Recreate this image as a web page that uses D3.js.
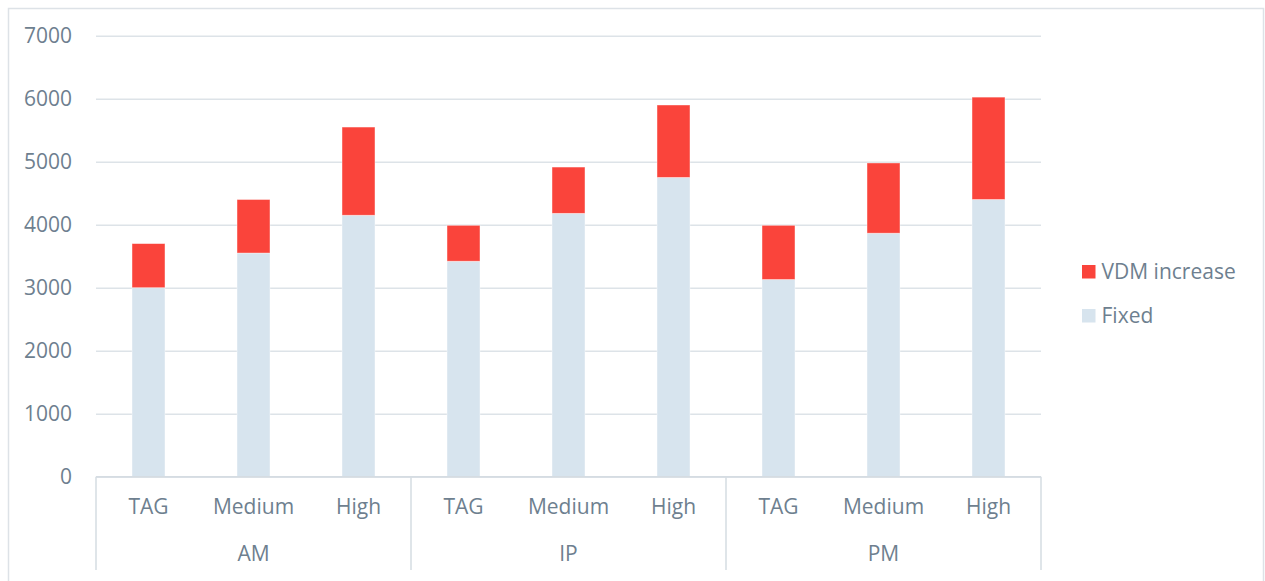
<!DOCTYPE html>
<html>
<head>
<meta charset="utf-8">
<script src="https://cdn.jsdelivr.net/npm/d3@7"></script>
<style>
  html, body { margin: 0; padding: 0; background: #ffffff; }
  svg { display: block; }
  text { font-family: "Open Sans", "Noto Sans", sans-serif; fill: #6e7f8f; }
</style>
</head>
<body>
<svg id="chart" width="1265" height="581"></svg>
<script>
// Periods and scenarios along the x axis
const periods = ["AM", "IP", "PM"];
const scenarios = ["TAG", "Medium", "High"];

// Stacked series values, one entry per period/scenario (AM, IP, PM × TAG, Medium, High)
const fixedValues = [3000, 3550, 4150, 3420, 4180, 4750, 3130, 3865, 4400];
const vdmIncrease = [700, 850, 1400, 570, 735, 1150, 860, 1115, 1625];

const seriesNames = ["VDM increase", "Fixed"];
const yTicks = [0, 1000, 2000, 3000, 4000, 5000, 6000, 7000];

const colors = { "Fixed": "#d7e4ee", "VDM increase": "#fa443b" };

const svg = d3.select("#chart");
const W = 1265, H = 581;
const plot = { left: 96, right: 1041, top: 35.7, bottom: 476.7 };

// Chart frame
svg.append("rect")
  .attr("x", 8.5).attr("y", 8.5)
  .attr("width", W - 10).attr("height", H)
  .attr("fill", "none").attr("stroke", "#dde2e7").attr("stroke-width", 1.5);

// Build the rows of the table
const rows = [];
periods.forEach((p, i) => scenarios.forEach((s, j) => {
  const k = i * scenarios.length + j;
  rows.push({ key: p + "|" + s, period: p, scenario: s, "Fixed": fixedValues[k], "VDM increase": vdmIncrease[k] });
}));

const x = d3.scaleBand()
  .domain(rows.map(d => d.key))
  .range([plot.left, plot.right])
  .paddingInner(0.686)
  .paddingOuter(0.343);

const y = d3.scaleLinear().domain([0, 7000]).range([plot.bottom, plot.top]);

// Horizontal gridlines
const yAxis = d3.axisLeft(y).tickValues(yTicks).tickSize(-(plot.right - plot.left)).tickPadding(25).tickFormat(d3.format("d"));
const gy = svg.append("g").attr("transform", `translate(${plot.left},0)`).call(yAxis);
gy.select(".domain").remove();
gy.selectAll(".tick line").attr("stroke", "#dde3e8").attr("stroke-width", 1.5);
gy.selectAll(".tick text").attr("font-size", 21).attr("fill", "#6e7f8f").attr("x", -24).attr("dy", "0.34em");

// Stacked bars
const stack = d3.stack().keys(["Fixed", "VDM increase"]);
const layers = stack(rows);
svg.append("g").selectAll("g")
  .data(layers)
  .join("g")
  .attr("fill", d => colors[d.key])
  .selectAll("rect")
  .data(d => d)
  .join("rect")
  .attr("x", d => x(d.data.key))
  .attr("width", x.bandwidth())
  .attr("y", d => y(d[1]))
  .attr("height", d => y(d[0]) - y(d[1]))
  .attr("stroke", "#ffffff")
  .attr("stroke-opacity", 0.5)
  .attr("stroke-width", 0.8);

// Category axis: baseline and group dividers
const axisG = svg.append("g");
axisG.append("line")
  .attr("x1", plot.left).attr("x2", plot.right)
  .attr("y1", plot.bottom).attr("y2", plot.bottom)
  .attr("stroke", "#d5dce2").attr("stroke-width", 1.5);

const step = x.step();
const groupEdges = [];
periods.forEach((p, i) => {
  const first = rows[i * scenarios.length].key;
  groupEdges.push(x(first) - (step - x.bandwidth()) / 2);
});
groupEdges.push(plot.right);
axisG.selectAll("line.div")
  .data(groupEdges)
  .join("line")
  .attr("class", "div")
  .attr("x1", d => d).attr("x2", d => d)
  .attr("y1", plot.bottom).attr("y2", 570)
  .attr("stroke", "#d5dce2").attr("stroke-width", 1.5);

// Scenario labels
axisG.selectAll("text.cat")
  .data(rows)
  .join("text")
  .attr("class", "cat")
  .attr("x", d => x(d.key) + x.bandwidth() / 2)
  .attr("y", 507)
  .attr("dy", "0.35em")
  .attr("text-anchor", "middle")
  .attr("font-size", 21)
  .text(d => d.scenario);

// Period labels
axisG.selectAll("text.grp")
  .data(periods)
  .join("text")
  .attr("class", "grp")
  .attr("x", (p, i) => (groupEdges[i] + groupEdges[i + 1]) / 2)
  .attr("y", 554)
  .attr("dy", "0.35em")
  .attr("text-anchor", "middle")
  .attr("font-size", 21)
  .text(d => d);

// Legend
const legend = svg.append("g");
const legendY = [272, 316];
seriesNames.forEach((name, i) => {
  legend.append("rect")
    .attr("x", 1082).attr("y", legendY[i] - 7)
    .attr("width", 13.5).attr("height", 13.5)
    .attr("fill", colors[name]);
  legend.append("text")
    .attr("x", 1101.5).attr("y", legendY[i])
    .attr("dy", "0.35em")
    .attr("font-size", 21)
    .text(name);
});
</script>
</body>
</html>
